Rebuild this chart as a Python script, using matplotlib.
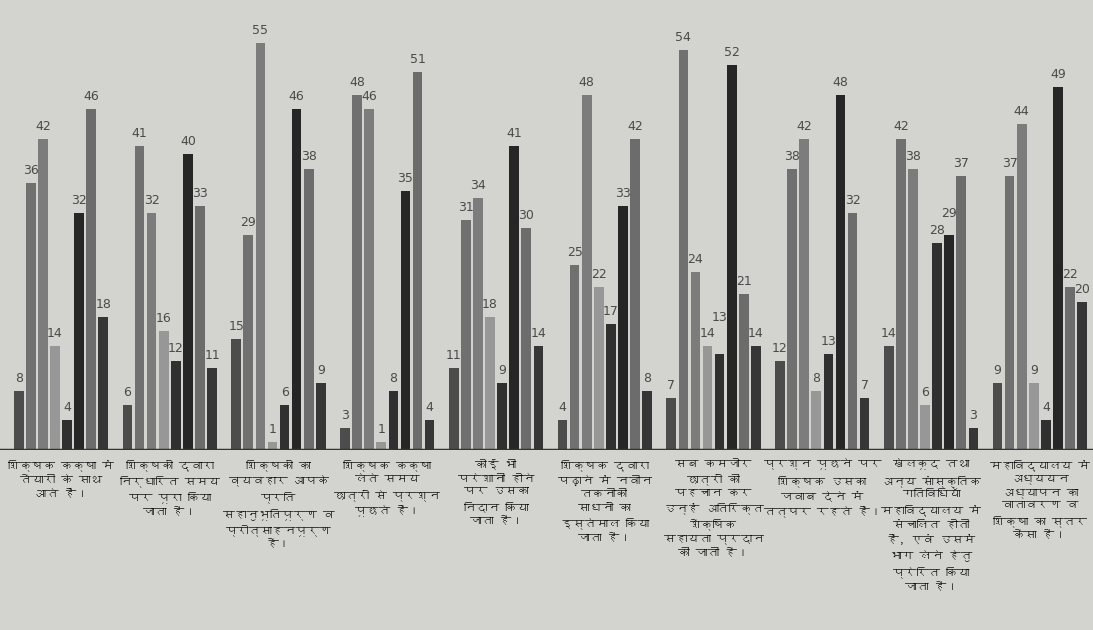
import numpy as np
import matplotlib
matplotlib.use('Agg')
import matplotlib.pyplot as plt
from matplotlib import font_manager
from matplotlib import ft2font

# category labels (Hindi, line breaks as printed)
categories = [
    "शिक्षक कक्षा में\nतैयारी के साथ\nआते हैं।",
    "शिक्षकों द्वारा\nनिर्धारित समय\nपर पूरा किया\nजाता है।",
    "शिक्षकों का\nव्यवहार आपके\nप्रति\nसहानुभूतिपूर्ण व\nप्रोत्साहनपूर्ण\nहै।",
    "शिक्षक कक्षा\nलेते समय\nछात्रों से प्रश्न\nपूछते हैं।",
    "कोई भी\nपरेशानी होने\nपर उसका\nनिदान किया\nजाता है।",
    "शिक्षक द्वारा\nपढ़ाने में नवीन\nतकनीकी\nसाधनों का\nइस्तेमाल किया\nजाता है।",
    "सब कमजोर\nछात्रों की\nपहचान कर\nउन्हें अतिरिक्त\nशैक्षिक\nसहायता प्रदान\nकी जाती है।",
    "प्रश्न पूछने पर\nशिक्षक उसका\nजवाब देने में\nतत्पर रहते हैं।",
    "खेलकूद तथा\nअन्य सांस्कृतिक\nगतिविधियाँ\nमहाविद्यालय में\nसंचालित होती\nहैं, एवं उसमें\nभाग लेने हेतु\nप्रेरित किया\nजाता है।",
    "महाविद्यालय में\nअध्ययन\nअध्यापन का\nवातावरण व\nशिक्षा का स्तर\nकैसा है।",
]

# eight series per category
s1 = [8, 6, 15, 3, 11, 4, 7, 12, 14, 9]
s2 = [36, 41, 29, 48, 31, 25, 54, 38, 42, 37]
s3 = [42, 32, 55, 46, 34, 48, 24, 42, 38, 44]
s4 = [14, 16, 1, 1, 18, 22, 14, 8, 6, 9]
s5 = [4, 12, 6, 8, 9, 17, 13, 13, 28, 4]
s6 = [32, 40, 46, 35, 41, 33, 52, 48, 29, 49]
s7 = [46, 33, 38, 51, 30, 42, 21, 32, 37, 22]
s8 = [18, 11, 9, 4, 14, 8, 14, 7, 3, 20]
series = [s1, s2, s3, s4, s5, s6, s7, s8]
colors = ['#4c4c4c', '#707070', '#7c7c7c', '#979797',
          '#303030', '#262626', '#6c6c6c', '#363636']


def find_deva_font():
    for f in font_manager.fontManager.ttflist:
        try:
            cm = ft2font.FT2Font(f.fname).get_charmap()
        except Exception:
            continue
        if 0x0915 in cm and 0x093F in cm:
            return f.name
    return None


deva = find_deva_font()
label_fams = ([deva] if deva else []) + ['DejaVu Sans']

bg = '#d3d3cf'
fig = plt.figure(figsize=(10.93, 6.3), dpi=100, facecolor=bg)
ax = fig.add_axes([0.0, 0.286, 1.0, 0.705])
ax.set_facecolor(bg)

n_groups = len(categories)
pitch = 9
x0 = np.arange(n_groups) * pitch
for i, (vals, c) in enumerate(zip(series, colors)):
    ax.bar(x0 + i, vals, width=0.8, color=c, edgecolor='none')

# value labels; lift one when its neighbour's label sits at the same height
for g in range(n_groups):
    prev_y = None
    for i in range(len(series)):
        v = series[i][g]
        y = v + 0.8
        if prev_y is not None and abs(y - prev_y) < 1.5:
            y = prev_y + 2.2
        ax.text(x0[g] + i, y, str(v), ha='center', va='bottom',
                fontsize=9, color='#4a4a4a', family='DejaVu Sans')
        prev_y = y

for g, lab in zip(x0, categories):
    ax.text(g + 3.5, -1.2, lab, ha='center', va='top', fontsize=8.5,
            style='italic', color='#111111', linespacing=1.45,
            family=label_fams)

ax.set_xlim(-1.55, 88.9)
ax.set_ylim(0, 60)
ax.axhline(0, color='#333333', linewidth=2.5)
for s in ax.spines.values():
    s.set_visible(False)
ax.set_xticks([])
ax.set_yticks([])

fig.savefig('out.png', dpi=100, facecolor=bg)
